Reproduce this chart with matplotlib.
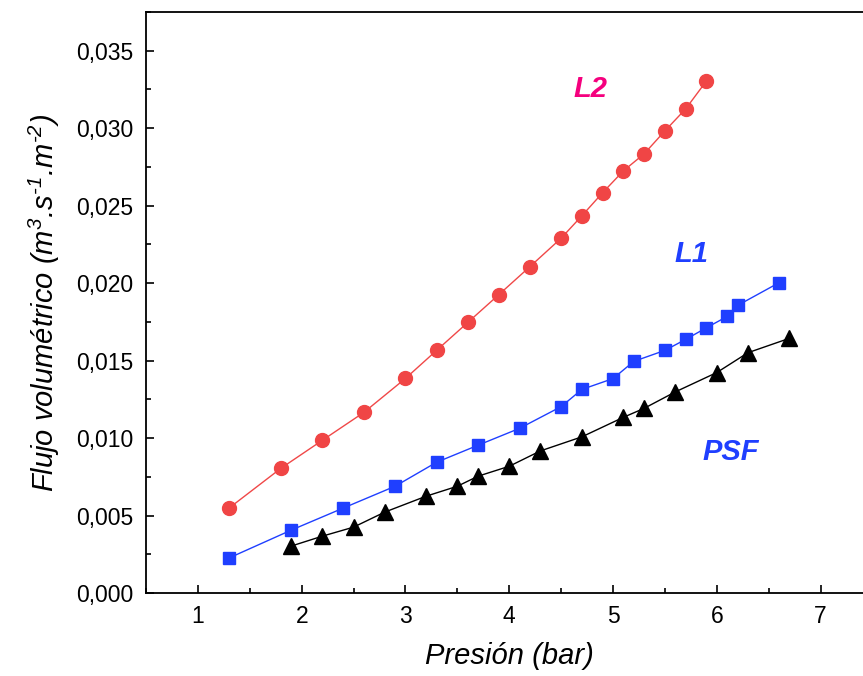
import matplotlib
matplotlib.use("Agg")
import matplotlib.pyplot as plt
from matplotlib.ticker import MultipleLocator, FuncFormatter

plt.rcParams["font.family"] = ["Liberation Sans", "DejaVu Sans"]
plt.rcParams["mathtext.fontset"] = "custom"
plt.rcParams["mathtext.it"] = "Liberation Sans:italic"
plt.rcParams["mathtext.rm"] = "Liberation Sans:italic"
plt.rcParams["mathtext.default"] = "it"

# Membrane L2
p_l2 = [1.3, 1.8, 2.2, 2.6, 3.0, 3.3, 3.6, 3.9, 4.2, 4.5, 4.7, 4.9, 5.1, 5.3, 5.5, 5.7, 5.9]
q_l2 = [0.00548, 0.00805, 0.00986, 0.01166, 0.01385, 0.01566, 0.01746, 0.01926, 0.02107,
        0.02290, 0.02435, 0.02584, 0.02725, 0.02835, 0.02983, 0.03125, 0.03305]

# Membrane L1
p_l1 = [1.3, 1.9, 2.4, 2.9, 3.3, 3.7, 4.1, 4.5, 4.7, 5.0, 5.2, 5.5, 5.7, 5.9, 6.1, 6.2, 6.6]
q_l1 = [0.00226, 0.00406, 0.00548, 0.00689, 0.00844, 0.00954, 0.01063, 0.01203, 0.01314,
        0.01384, 0.01495, 0.01566, 0.01637, 0.01712, 0.01785, 0.01856, 0.02003]

# PSF support
p_psf = [1.9, 2.2, 2.5, 2.8, 3.2, 3.5, 3.7, 4.0, 4.3, 4.7, 5.1, 5.3, 5.6, 6.0, 6.3, 6.7]
q_psf = [0.00303, 0.00367, 0.00425, 0.00522, 0.00625, 0.00689, 0.00754, 0.00818, 0.00917,
         0.01008, 0.01134, 0.01192, 0.01298, 0.01423, 0.01551, 0.01644]

fig = plt.figure(figsize=(8.63, 6.76), dpi=100)
ax = fig.add_axes([0.1692, 0.1228, 0.8418, 0.8594])

ax.plot(p_l2, q_l2, "-", color="#F04848", lw=1.0, marker="o", ms=10,
        markerfacecolor="#F04545", markeredgecolor="#F04545")
ax.plot(p_l1, q_l1, "-", color="#1F3FFF", lw=1.0, marker="s", ms=9,
        markerfacecolor="#1F3FFF", markeredgecolor="#1F3FFF")
ax.plot(p_psf, q_psf, "-", color="black", lw=1.0, marker="^", ms=11,
        markerfacecolor="black", markeredgecolor="black")

label_kw = dict(fontsize=21, fontweight="bold", fontstyle="italic", ha="center", va="center")
ax.text(4.78, 0.03254, "L2", color="#F5007E", **label_kw)
ax.text(5.76, 0.0219, "L1", color="#1F3FFF", **label_kw)
ax.text(6.13, 0.00908, "PSF", color="#1F3FFF", **label_kw)

ax.set_xlim(0.5, 7.5)
ax.set_ylim(0.0, 0.0375)
ax.xaxis.set_major_locator(MultipleLocator(1))
ax.xaxis.set_minor_locator(MultipleLocator(0.5))
ax.yaxis.set_major_locator(MultipleLocator(0.005))
ax.yaxis.set_minor_locator(MultipleLocator(0.0025))
ax.yaxis.set_major_formatter(FuncFormatter(lambda v, pos: f"{v:.3f}".replace(".", ",")))
ax.xaxis.set_major_formatter(FuncFormatter(lambda v, pos: f"{v:.0f}"))

ax.tick_params(axis="both", which="major", direction="in", length=6, width=1.2,
               labelsize=16.5)
ax.tick_params(axis="x", which="major", pad=9)
ax.tick_params(axis="y", which="major", pad=9)
ax.tick_params(axis="both", which="minor", direction="in", length=3.5, width=1.2)
ax.tick_params(axis="x", which="both", top=False)
ax.tick_params(axis="y", which="both", right=False)
for s in ax.spines.values():
    s.set_linewidth(1.3)

ax.set_xlabel("Presión (bar)", fontsize=21, fontstyle="italic", labelpad=10)
ax.set_ylabel("Flujo volumétrico (m$^{3}$.s$^{\\text{-}1}$.m$^{\\text{-}2}$)", fontsize=21,
              fontstyle="italic", labelpad=10)

fig.savefig("out.png", dpi=100)
